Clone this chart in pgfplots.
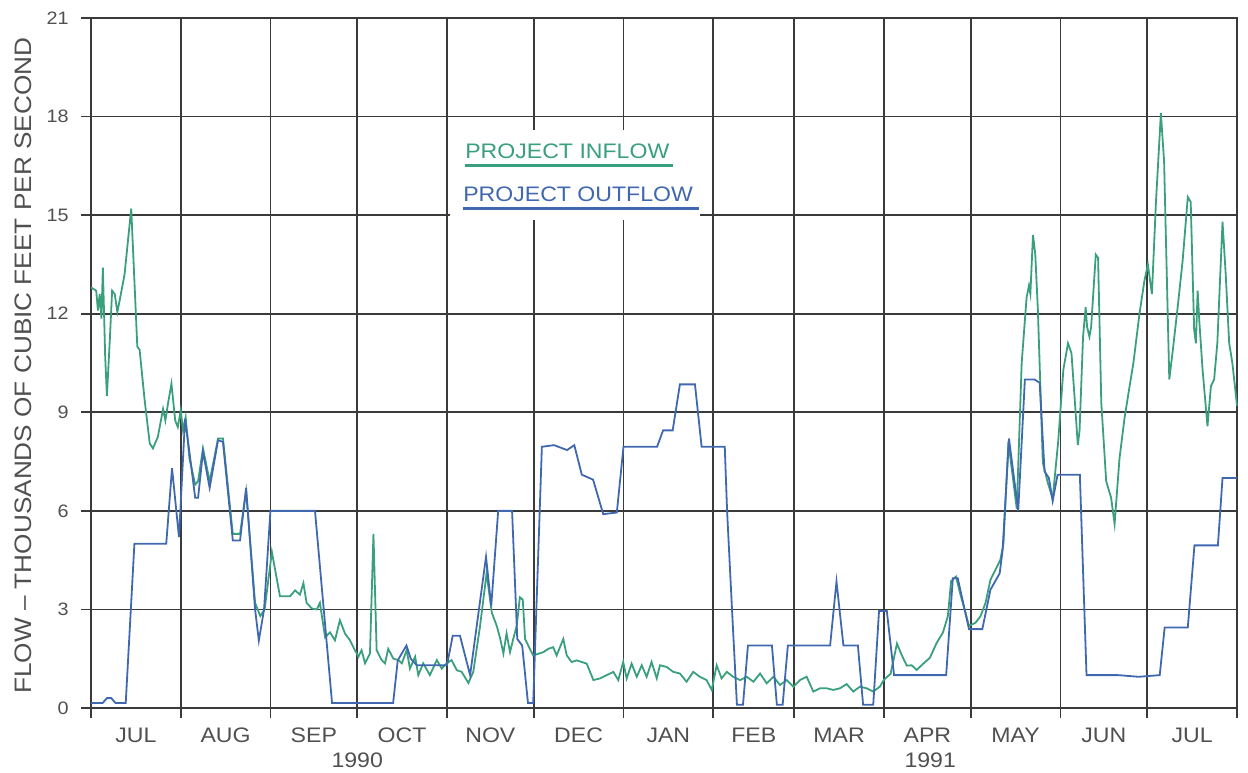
\documentclass[border=0pt]{standalone}
\usepackage{fontspec}
\setmainfont{Liberation Sans}[FakeStretch=1.1]
\usepackage{pgfplots}
\pgfplotsset{compat=1.18}

\definecolor{inflow}{HTML}{3AA07C}
\definecolor{outflow}{HTML}{4068B0}
\definecolor{txt}{HTML}{505050}
\definecolor{gridc}{HTML}{3A3A3A}

\begin{document}
\begin{tikzpicture}
\useasboundingbox (-45.5pt,-32pt) rectangle (578.5pt,354pt);
\begin{axis}[
  scale only axis, width=573pt, height=345pt,
  xmin=0, xmax=396, ymin=0, ymax=21,
  clip=false,
  axis line style={gridc, line width=1pt},
  % month boundaries, days counted from 1 July 1990
  xtick={0,31,62,92,123,153,184,215,243,274,304,335,365,396},
  xticklabels={},
  ytick={0,3,...,21},
  grid=major,
  major grid style={gridc, line width=0.9pt},
  tick pos=left, tick align=outside,
  major tick length=5pt,
  tick style={gridc, line width=0.9pt},
  extra x ticks={15.5,46.5,77,107.5,138,168.5,199.5,229,258.5,289,319.5,350,380.5},
  extra x tick labels={JUL,AUG,SEP,OCT,NOV,DEC,JAN,FEB,MAR,APR,MAY,JUN,JUL},
  extra x tick style={grid=none, major tick length=0pt},
  xticklabel style={anchor=center, yshift=-13.5pt, text=txt, font=\fontsize{10.5}{10.5}\selectfont},
  yticklabel style={anchor=east, inner sep=0pt, xshift=-6pt, text=txt, font=\fontsize{9}{9}\selectfont},
  /pgf/number format/assume math mode=true,
  ylabel={FLOW -- THOUSANDS OF CUBIC FEET PER SECOND},
  ylabel style={at={(axis description cs:-0.0593,0.496)}, anchor=center, text=txt, font=\fontsize{11.9}{12}\selectfont},
]

% project inflow (thousands of cfs)
\addplot[inflow, line width=0.9pt] coordinates {
(0,12.8) (1.8,12.7) (2.4,12.1) (3.0,12.6) (3.6,11.85) (4.1,13.4) (4.9,10.7) (5.5,9.5)
(6.5,11.2) (7.3,12.7) (8.2,12.6) (9.1,12.05) (9.9,12.4) (11.6,13.2) (13.9,15.2) (16.0,11.0)
(16.8,10.9) (18.5,9.4) (20.3,8.05) (21.4,7.9) (23.1,8.25) (24.9,9.1) (25.7,8.75) (26.6,9.26)
(27.8,9.87) (29.1,8.75) (30.0,8.55) (31.0,9.06) (31.8,8.45) (32.7,8.85) (34,7.6) (36,6.8)
(37,6.9) (38.7,7.9) (41,6.9) (43.9,8.2) (45.6,8.2) (49,5.3) (51.5,5.3) (53.6,6.6)
(56.7,3.2) (58.5,2.8) (60,3.0) (62.5,4.75) (65.3,3.4) (68.8,3.4) (70.5,3.58) (72.2,3.45)
(73.4,3.8) (74.5,3.2) (76.3,3.03) (78,3.0) (79.1,3.2) (80.9,2.15) (82.6,2.3) (84.3,2.06)
(86,2.67) (87.8,2.26) (89.5,2.06) (91.2,1.76) (92.4,1.56) (93.5,1.76) (94.7,1.36) (96.4,1.66)
(97.6,5.3) (98.7,1.76) (100.4,1.46) (101.6,1.36) (102.7,1.8) (104.5,1.5) (106.2,1.46) (107.4,1.36)
(109.1,1.76) (110.2,1.2) (112,1.56) (113.1,1.0) (114.8,1.36) (117.1,1.0) (119.5,1.46) (121.2,1.2)
(122.9,1.36) (124.6,1.46) (126.4,1.15) (128.1,1.1) (130.4,0.76) (132.1,1.1) (134.4,2.47) (136.7,4.1)
(138.5,2.9) (140.2,2.5) (141.3,2.15) (142.5,1.66) (143.6,2.27) (144.8,1.7) (145.9,2.1) (147.1,2.5)
(148.2,3.37) (149.2,3.3) (150,2.1) (151.1,1.9) (152.8,1.6) (154.6,1.65) (156.3,1.7) (158,1.8)
(159.7,1.85) (160.9,1.6) (163.2,2.1) (164.4,1.6) (166.1,1.4) (167.8,1.45) (169.6,1.4) (171.3,1.35)
(173.6,0.85) (175.9,0.9) (178.2,1.0) (180.5,1.1) (182.2,0.85) (183.9,1.4) (185.1,0.9) (186.8,1.35)
(188.6,0.95) (190.3,1.3) (192,0.95) (193.7,1.4) (195.5,0.9) (196.6,1.3) (198.9,1.25) (201.2,1.1)
(203.5,1.05) (205.8,0.8) (208.1,1.1) (210.4,0.95) (212.7,0.85) (214.5,0.55) (216.2,1.3) (217.9,0.9)
(219.7,1.1) (221.9,0.95) (224.3,0.85) (226.6,0.95) (228.9,0.8) (231.2,1.05) (233.5,0.75) (235.8,0.95)
(238.1,0.7) (240.4,0.85) (242.7,0.65) (245,0.85) (247.3,0.95) (249.6,0.5) (251.9,0.6) (254.2,0.6)
(256.5,0.55) (258.8,0.6) (261.1,0.73) (263.4,0.5) (265.7,0.65) (268,0.6) (270.3,0.5) (272.6,0.65)
(274,0.86) (276.3,1.04) (278.5,1.96) (280.2,1.6) (281.9,1.29) (283.6,1.3) (285.3,1.16) (287.6,1.35)
(289.9,1.53) (292.1,1.96) (294.4,2.3) (296.1,2.8) (297.2,3.86) (298.9,4.0) (300.6,3.4) (303.4,2.5)
(305.7,2.6) (307.4,2.8) (309.1,3.2) (310.8,3.9) (312.5,4.2) (314.2,4.5) (315.3,5.0) (317,8.1)
(319.9,6.06) (321.6,10.5) (323.3,12.5) (324.1,12.85) (324.6,12.6) (325.5,14.4) (326.3,13.8) (327.2,12.1)
(328.9,7.47) (330.6,6.86) (332.3,6.37) (334.2,8.1) (336,10.3) (337.6,11.1) (338.8,10.8) (340,9.3)
(341,8.0) (341.6,8.45) (342.8,11.3) (343.7,12.2) (344.2,11.6) (345,11.3) (345.6,11.6) (347.2,13.8)
(348,13.7) (349.1,9.3) (350.8,6.9) (352.5,6.4) (353.7,5.6) (355.4,7.6) (357.1,8.8) (358.9,9.8)
(360.2,10.5) (362.3,12.0) (364,13.0) (365.2,13.5) (366.6,12.6) (368,15.4) (369.7,18.1) (370.8,16.65)
(372.6,10.0) (373.7,10.8) (375.5,12.2) (377.2,13.6) (379,15.55) (380,15.4) (381.2,11.5) (381.8,11.1)
(382.4,12.7) (383,11.75) (384.1,10.3) (385.8,8.57) (387,9.8) (388.1,10.0) (389.2,11.1) (391,14.8)
(392.1,13.2) (393.3,11.1) (394.4,10.5) (396,9.2)
};

% project outflow (thousands of cfs)
\addplot[outflow, line width=0.9pt] coordinates {
(0,0.15) (4,0.15) (5.5,0.3) (7,0.3) (8.5,0.15) (12,0.15) (15,5.0) (26,5.0)
(28,7.3) (30.4,5.2) (32.5,8.8) (34,7.8) (36,6.4) (37,6.4) (38.7,7.8) (41,6.7)
(43.9,8.15) (45.6,8.1) (49,5.1) (51.5,5.1) (53.6,6.7) (56.7,3.0) (58,2.05) (59.8,3.0)
(62,6.0) (77.4,6.0) (83.3,0.15) (104.4,0.15) (106,1.45) (109,1.9) (110.5,1.5) (112.6,1.3)
(123,1.3) (125,2.2) (127.5,2.2) (131,1.0) (136.5,4.6) (138.3,3.1) (140.7,6.0) (145.5,6.0)
(147.3,2.1) (149,1.9) (151,0.15) (152.8,0.15) (155.8,7.95) (160,8.0) (164.5,7.85) (167,8.0)
(169.6,7.1) (173.5,6.95) (177,5.9) (181.7,5.95) (184,7.95) (195.6,7.95) (197.7,8.45) (201,8.45)
(203.5,9.85) (208.7,9.85) (211,7.95) (219,7.95) (219.8,6.0) (221.5,3.0) (223.2,0.1) (225.3,0.1)
(227,1.9) (235.3,1.9) (237,0.1) (239,0.1) (240.8,1.9) (255.4,1.9) (257.6,3.85) (260,1.9)
(265,1.9) (266.8,0.1) (270.3,0.1) (272.3,2.95) (275,2.95) (277.5,1.0) (295.5,1.0) (297.8,3.95)
(299.5,3.95) (303.4,2.4) (308,2.4) (310.8,3.6) (314,4.1) (315,4.8) (317.2,8.2) (320.4,6.0)
(322.7,10.0) (326,10.0) (327.8,9.9) (329.5,7.2) (331,7.0) (332.3,6.3) (334,7.1) (341.7,7.1)
(344,1.0) (355,1.0) (362,0.95) (369.3,1.0) (371,2.45) (379,2.45) (381.3,4.95) (389.4,4.95)
(391,7.0) (396,7.0)
};

% legend panel
\fill[white] (axis cs:124,14.85) rectangle (axis cs:210.5,17.6);
\node[anchor=west, inner sep=0pt, text=inflow, font=\fontsize{10.5}{10.5}\selectfont]
  at (axis cs:129.2,16.94) {PROJECT INFLOW};
\draw[inflow, line width=1.5pt] (axis cs:129.2,16.5) -- (axis cs:201.1,16.5);
\node[anchor=west, inner sep=0pt, text=outflow, font=\fontsize{10.5}{10.5}\selectfont]
  at (axis cs:128.5,15.65) {PROJECT OUTFLOW};
\draw[outflow, line width=1.5pt] (axis cs:128.5,15.2) -- (axis cs:210.1,15.2);

% year labels
\node[text=txt, font=\fontsize{10.5}{10.5}\selectfont] at (axis cs:92,0) [yshift=-26pt] {1990};
\node[text=txt, font=\fontsize{10.5}{10.5}\selectfont] at (axis cs:290,0) [yshift=-26pt] {1991};
\end{axis}
\end{tikzpicture}
\end{document}
